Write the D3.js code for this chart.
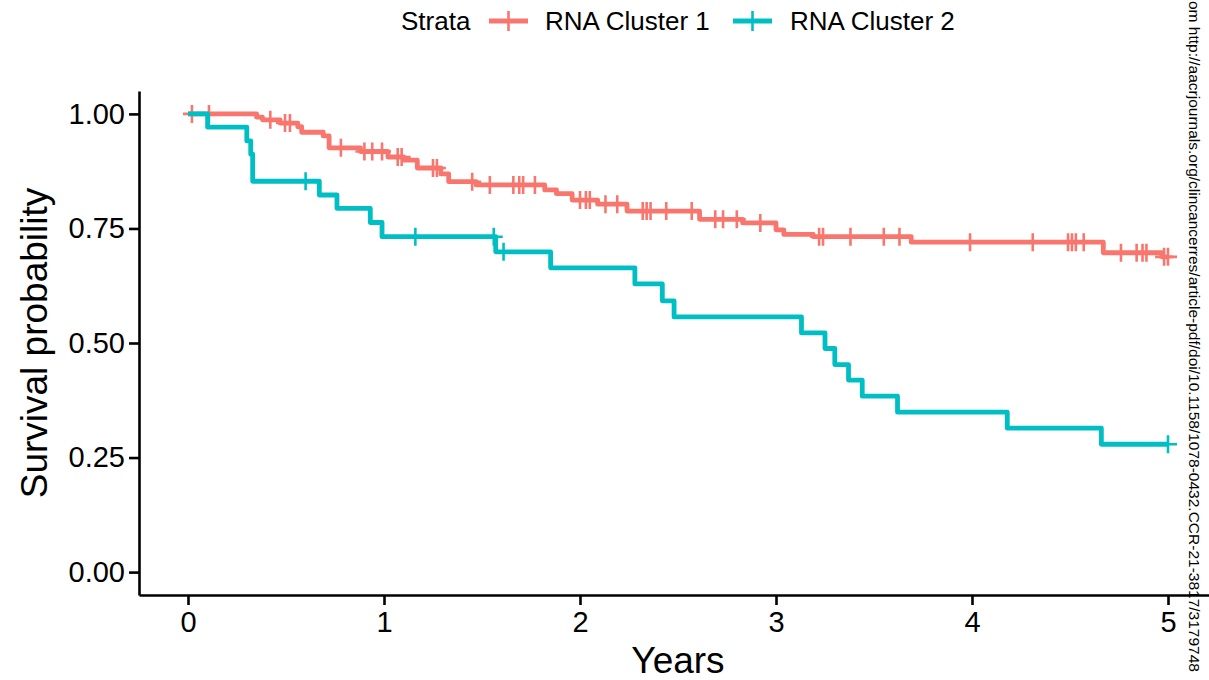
<!DOCTYPE html>
<html>
<head>
<meta charset="utf-8">
<script src="https://cdn.jsdelivr.net/npm/d3@7"></script>
<style>
  body { margin: 0; background: #fff; }
  svg { display: block; font-family: "Liberation Sans", Arial, Helvetica, sans-serif; }
</style>
</head>
<body>
<div id="chart"></div>
<script>
// Kaplan-Meier steps: [years, survival]
const cluster1Steps = [
  [0, 1], [0.35, 0.993], [0.38, 0.987], [0.47, 0.98], [0.56, 0.972], [0.58, 0.96],
  [0.69, 0.952], [0.72, 0.926], [0.88, 0.918], [1.02, 0.906], [1.10, 0.899],
  [1.17, 0.882], [1.29, 0.869], [1.33, 0.852], [1.47, 0.845], [1.82, 0.834],
  [1.88, 0.826], [1.96, 0.812], [2.09, 0.803], [2.24, 0.788], [2.61, 0.77],
  [2.83, 0.762], [3.0, 0.747], [3.04, 0.737], [3.19, 0.732], [3.69, 0.72],
  [4.67, 0.697], [4.97, 0.688]
];
const cluster1Censor = [
  0.02, 0.107, 0.42, 0.495, 0.52, 0.78, 0.9, 0.94, 0.99, 1.07, 1.09, 1.25, 1.27,
  1.45, 1.54, 1.66, 1.69, 1.71, 1.77, 2.0, 2.03, 2.05, 2.13, 2.19, 2.32, 2.34,
  2.36, 2.44, 2.57, 2.69, 2.73, 2.80, 2.92, 3.22, 3.24, 3.38, 3.55, 3.63, 3.99,
  4.31, 4.49, 4.51, 4.53, 4.57, 4.76, 4.84, 4.87, 4.89, 4.98, 5.0
];
const cluster2Steps = [
  [0, 1], [0.10, 0.971], [0.30, 0.941], [0.32, 0.912], [0.33, 0.853], [0.67, 0.823],
  [0.76, 0.794], [0.93, 0.763], [0.99, 0.732], [1.57, 0.699], [1.85, 0.664],
  [2.28, 0.629], [2.42, 0.592], [2.48, 0.557], [3.13, 0.522], [3.25, 0.488],
  [3.30, 0.453], [3.37, 0.419], [3.44, 0.384], [3.62, 0.349], [4.18, 0.314],
  [4.66, 0.279]
];
const cluster2Censor = [0.6, 1.16, 1.56, 1.61, 5.0];
const endTime = 5;

const xTicks = [0, 1, 2, 3, 4, 5];
const yTicks = [0, 0.25, 0.5, 0.75, 1];
const strata = ["RNA Cluster 1", "RNA Cluster 2"];
const colors = ["#F8766D", "#00BFC4"];
const sourceNote = "om http://aacrjournals.org/clincancerres/article-pdf/doi/10.1158/1078-0432.CCR-21-3817/3179748";

const width = 1209, height = 680;
const svg = d3.select("#chart").append("svg")
  .attr("width", width).attr("height", height);

const x = d3.scaleLinear().domain([-0.25, 5.25]).range([139, 1217]);
const y = d3.scaleLinear().domain([-0.05, 1.05]).range([595, 91]);

// axes
const xAxis = svg.append("g")
  .attr("transform", `translate(0,${y(-0.05)})`)
  .call(d3.axisBottom(x).tickValues(xTicks).tickFormat(d3.format("d")).tickSize(10).tickSizeOuter(0).tickPadding(5));
const yAxis = svg.append("g")
  .attr("transform", `translate(${x(-0.25)},0)`)
  .call(d3.axisLeft(y).tickValues(yTicks).tickFormat(d3.format(".2f")).tickSize(10).tickSizeOuter(0).tickPadding(4));
[xAxis, yAxis].forEach(g => {
  g.selectAll("path, line").attr("stroke", "#000").attr("stroke-width", 2.6);
  g.selectAll("text").attr("fill", "#000").attr("font-size", 29).attr("font-family", null);
});
xAxis.selectAll("text").attr("dy", "0.75em");

svg.append("text")
  .attr("x", (x.range()[0] + x.range()[1]) / 2).attr("y", 673)
  .attr("text-anchor", "middle").attr("font-size", 37).text("Years");
svg.append("text")
  .attr("transform", `translate(47,${(y.range()[0] + y.range()[1]) / 2}) rotate(-90)`)
  .attr("text-anchor", "middle").attr("font-size", 37).text("Survival probability");

// curves
const line = d3.line().curve(d3.curveStepAfter).x(d => x(d[0])).y(d => y(d[1]));
const stepAt = (steps, t) => {
  let s = steps[0][1];
  steps.forEach(d => { if (d[0] <= t) s = d[1]; });
  return s;
};
const cross = 9;

[[cluster1Steps, cluster1Censor], [cluster2Steps, cluster2Censor]].forEach(([steps, censor], i) => {
  const pts = steps.concat([[endTime, steps[steps.length - 1][1]]]);
  const g = svg.append("g");
  g.append("path")
    .attr("d", line(pts))
    .attr("fill", "none")
    .attr("stroke", colors[i])
    .attr("stroke-width", 4.8)
    .attr("stroke-linejoin", "round");
  g.selectAll("path.cens")
    .data(censor)
    .join("path")
    .attr("class", "cens")
    .attr("d", t => {
      const cx = x(t), cy = y(stepAt(steps, t));
      return `M${cx - cross},${cy}H${cx + cross}M${cx},${cy - cross}V${cy + cross}`;
    })
    .attr("stroke", colors[i])
    .attr("stroke-width", 2.6)
    .attr("fill", "none");
});

// legend
const legend = svg.append("g").attr("font-size", 26);
legend.append("text").attr("x", 401).attr("y", 30).text("Strata");
const keyX = [489, 733], labelX = [545, 790];
strata.forEach((s, i) => {
  const k = legend.append("g").attr("stroke", colors[i]);
  k.append("line").attr("x1", keyX[i]).attr("x2", keyX[i] + 39).attr("y1", 21).attr("y2", 21).attr("stroke-width", 4.8);
  k.append("line").attr("x1", keyX[i] + 19.5).attr("x2", keyX[i] + 19.5).attr("y1", 11).attr("y2", 31).attr("stroke-width", 2.6);
  legend.append("text").attr("x", labelX[i]).attr("y", 30).text(s);
});

// side note from the source page
svg.append("text")
  .attr("transform", "translate(1189,1) rotate(90)")
  .attr("font-size", 15.5)
  .text(sourceNote);
</script>
</body>
</html>
